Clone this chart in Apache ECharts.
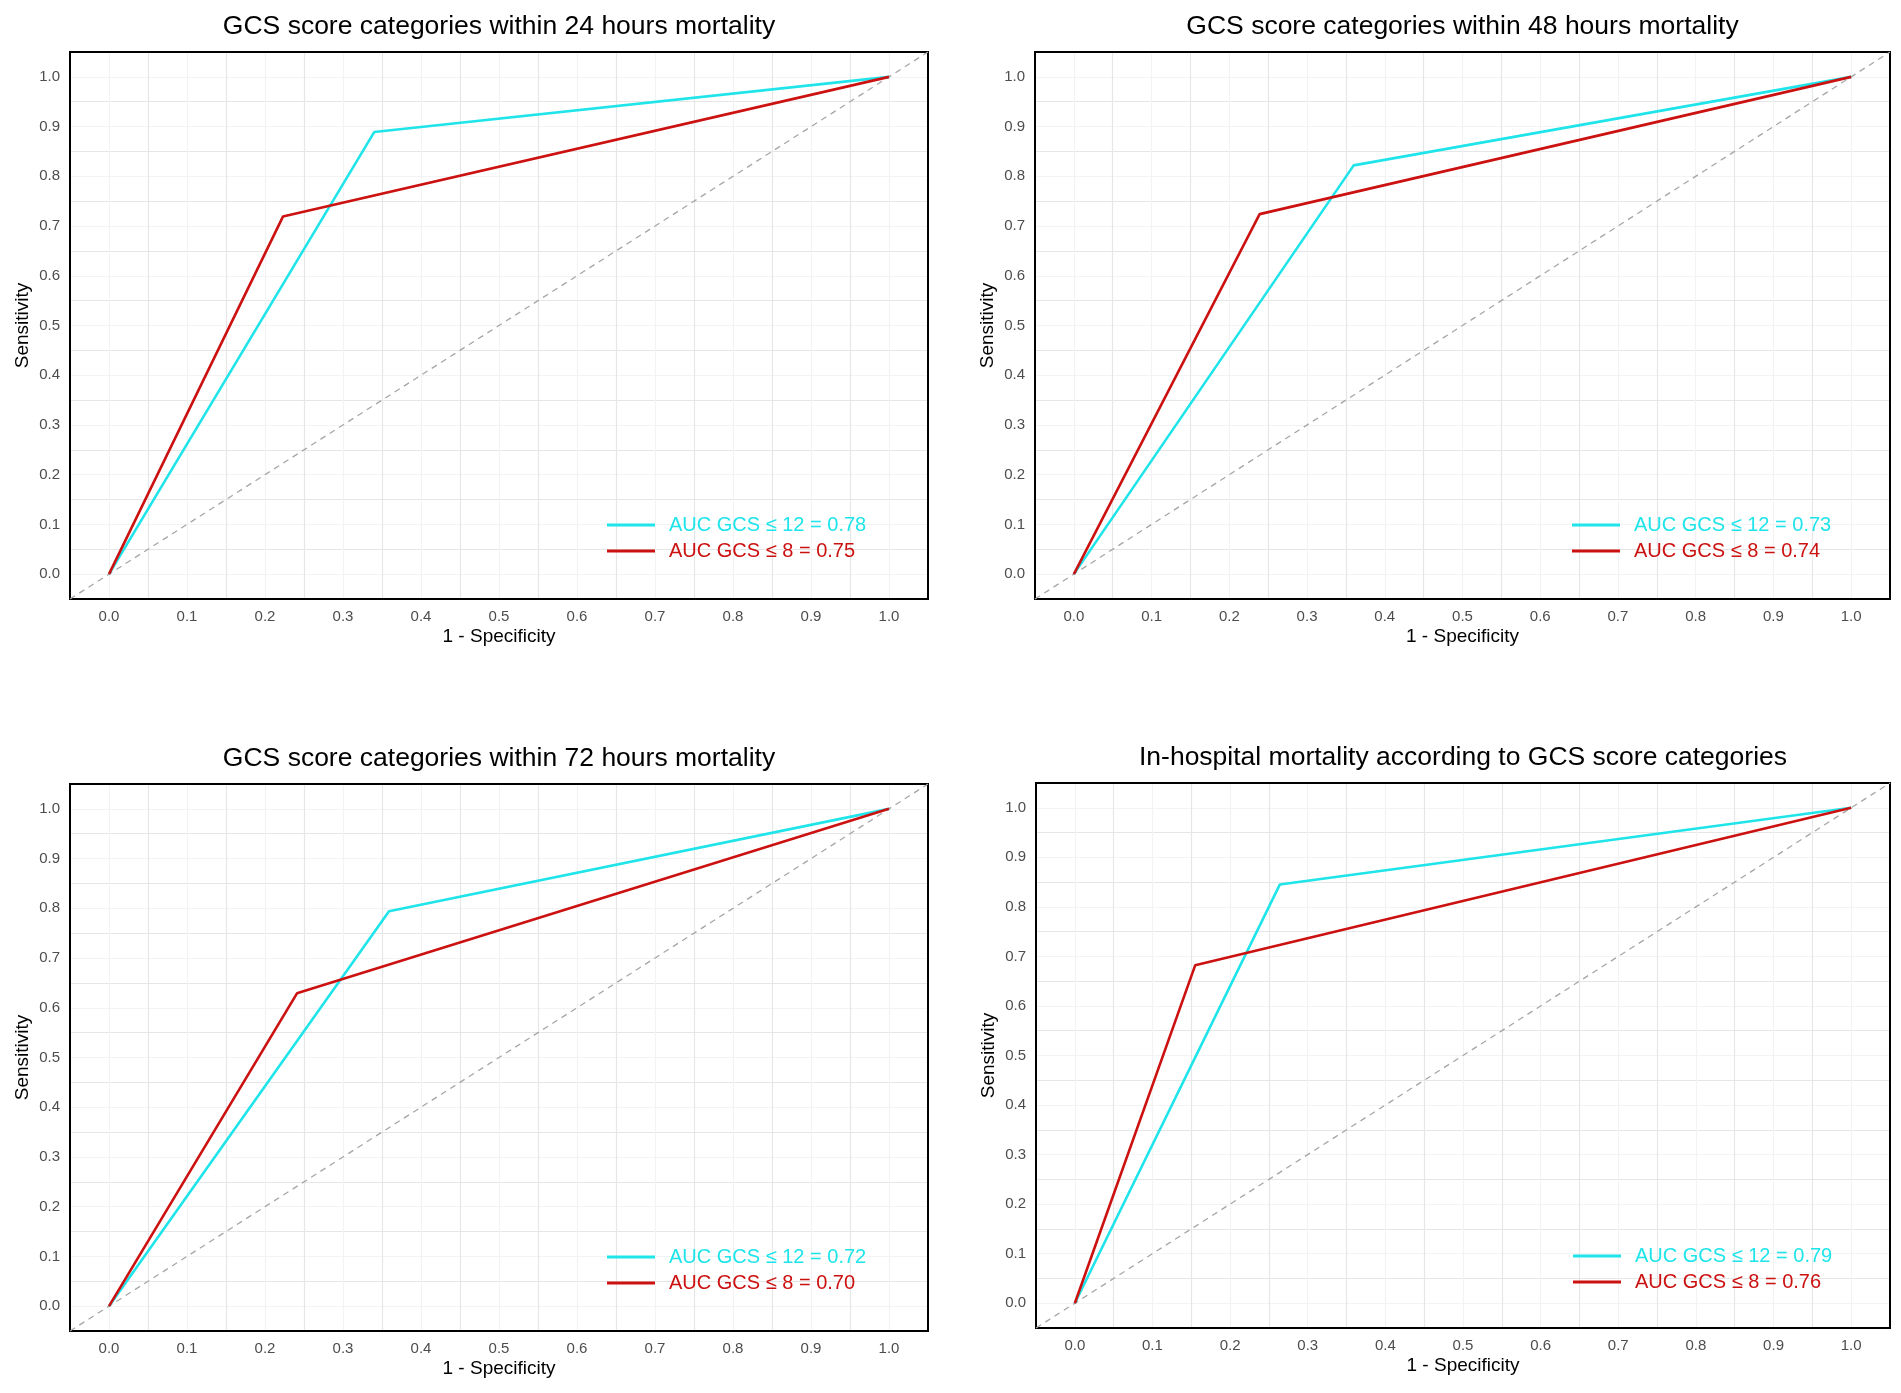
<!DOCTYPE html>
<html lang="en">
<head>
    <meta charset="utf-8">
    <title>GCS score categories ROC curves</title>
    <script src="https://cdn.jsdelivr.net/npm/echarts@6/dist/echarts.min.js"></script>
    <style>
        html, body { margin: 0; padding: 0; background: #fff; }
        #chart { width: 1901px; height: 1393px; }
    </style>
</head>
<body>
<div id="chart"></div>
<script type="text/javascript">
    // 各面板标题
    var panelTitles = [
        'GCS score categories within 24 hours mortality',
        'GCS score categories within 48 hours mortality',
        'GCS score categories within 72 hours mortality',
        'In-hospital mortality according to GCS score categories'
    ];
    // ROC 曲线点 [1 - Specificity, Sensitivity]
    var roc12_24h = [[0, 0], [0.340, 0.889], [1, 1]];
    var roc8_24h = [[0, 0], [0.223, 0.719], [1, 1]];
    var roc12_48h = [[0, 0], [0.360, 0.822], [1, 1]];
    var roc8_48h = [[0, 0], [0.239, 0.724], [1, 1]];
    var roc12_72h = [[0, 0], [0.359, 0.794], [1, 1]];
    var roc8_72h = [[0, 0], [0.241, 0.629], [1, 1]];
    var roc12_hosp = [[0, 0], [0.264, 0.845], [1, 1]];
    var roc8_hosp = [[0, 0], [0.155, 0.682], [1, 1]];
    var auc12 = ['0.78', '0.73', '0.72', '0.79'];
    var auc8 = ['0.75', '0.74', '0.70', '0.76'];
    var diagonal = [[-0.05, -0.05], [1.05, 1.05]];
    var axisMin = -0.05, axisMax = 1.05;

    var curves12 = [roc12_24h, roc12_48h, roc12_72h, roc12_hosp];
    var curves8 = [roc8_24h, roc8_48h, roc8_72h, roc8_hosp];

    var FONT = 'Liberation Sans, Arial, sans-serif';
    var CYAN = '#1fe4ea';
    var RED = '#cc1111';

    // 网格位置
    var grids = [
        { left: 70, top: 52, width: 858, height: 547 },
        { left: 1035, top: 52, width: 855, height: 547 },
        { left: 70, top: 784, width: 858, height: 547 },
        { left: 1036, top: 783, width: 854, height: 545 }
    ];

    function tickLabel(v) {
        var r = Math.round(v * 10) / 10;
        if (Math.abs(v - r) < 1e-6 && r >= 0 && r <= 1) {
            return r.toFixed(1);
        }
        return '';
    }

    function axisBase(name) {
        return {
            type: 'value',
            z: 0,
            min: axisMin,
            max: axisMax,
            interval: 0.05,
            name: name,
            nameLocation: 'middle',
            nameTextStyle: { color: '#000', fontSize: 19, fontFamily: FONT },
            axisLine: { show: false },
            axisTick: { show: false },
            axisLabel: { formatter: tickLabel, color: '#4d4d4d', fontSize: 15, fontFamily: FONT, margin: 10 },
            splitLine: {
                show: true, showMinLine: false, showMaxLine: false,
                lineStyle: { color: ['#f3f3f3', '#e6e6e6'], width: 1.2 }
            }
        };
    }

    var gridOpts = [], xAxes = [], yAxes = [], series = [], legends = [], graphics = [];
    for (var i = 0; i < 4; i++) {
        var g = grids[i];
        // 边框画在网格线之上
        gridOpts.push({
            left: g.left, top: g.top, width: g.width, height: g.height, z: 1,
            show: true, borderColor: '#000', borderWidth: 2, backgroundColor: 'transparent'
        });
        var xa = axisBase('1 - Specificity');
        xa.gridIndex = i;
        xa.nameGap = 28;
        xAxes.push(xa);
        var ya = axisBase('Sensitivity');
        ya.gridIndex = i;
        ya.nameGap = 38;
        ya.nameRotate = 90;
        yAxes.push(ya);

        var name12 = 'AUC GCS \u2264 12 = ' + auc12[i];
        var name8 = 'AUC GCS \u2264 8 = ' + auc8[i];

        series.push({
            type: 'line', xAxisIndex: i, yAxisIndex: i, data: diagonal,
            symbol: 'none', silent: true,
            lineStyle: { color: '#a6a6a6', width: 1.3, type: [6, 5] }, z: 2
        });
        series.push({
            name: name12, type: 'line', xAxisIndex: i, yAxisIndex: i, data: curves12[i],
            symbol: 'none', color: CYAN, lineStyle: { color: CYAN, width: 2.6 }, z: 3
        });
        series.push({
            name: name8, type: 'line', xAxisIndex: i, yAxisIndex: i, data: curves8[i],
            symbol: 'none', color: RED, lineStyle: { color: RED, width: 2.6 }, z: 4
        });

        legends.push({
            orient: 'vertical',
            left: g.left + 537,
            top: g.top + 463,
            icon: 'rect',
            itemWidth: 48,
            itemHeight: 3,
            itemGap: 6,
            padding: 0,
            selectedMode: false,
            textStyle: { fontSize: 20, lineHeight: 20, fontFamily: FONT, padding: [0, 0, 0, 9] },
            data: [
                { name: name12, textStyle: { color: CYAN } },
                { name: name8, textStyle: { color: RED } }
            ]
        });

        graphics.push({
            type: 'text',
            x: g.left + g.width / 2,
            y: g.top - 25,
            style: {
                text: panelTitles[i], fill: '#000', fontSize: 26.5, fontFamily: FONT,
                textAlign: 'center', textVerticalAlign: 'middle'
            }
        });
    }

    var chart = echarts.init(document.getElementById('chart'));
    chart.setOption({
        backgroundColor: '#fff',
        animation: false,
        grid: gridOpts,
        xAxis: xAxes,
        yAxis: yAxes,
        legend: legends,
        series: series,
        graphic: graphics
    });
</script>
</body>
</html>
